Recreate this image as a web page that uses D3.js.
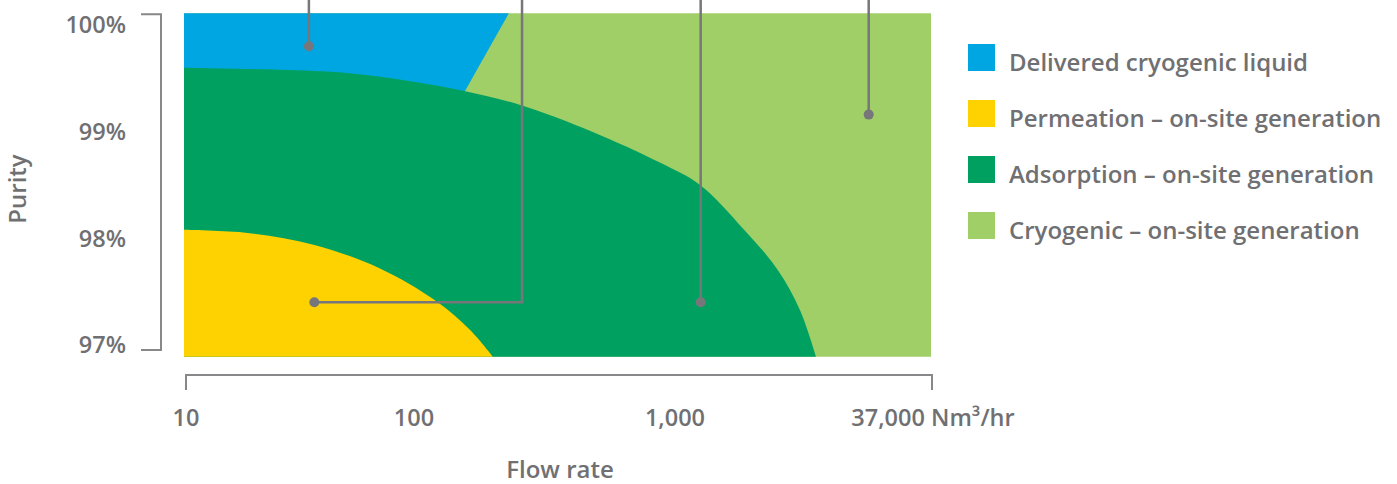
<!DOCTYPE html>
<html>
<head>
<meta charset="utf-8">
<script src="https://cdn.jsdelivr.net/npm/d3@7"></script>
<style>
  body { margin: 0; background: #fff; }
  text { font-family: "Open Sans", sans-serif; font-weight: 600; fill: #707073; }
</style>
</head>
<body>
<div id="chart"></div>
<script>
// tick values and labels
const flowTicks = [10, 100, 1000, 37000];
const flowTickLabels = ['10', '100', '1,000', '37,000 Nm³/hr'];
const purityTicks = [97, 98, 99, 100];
const purityTickLabels = ['97%', '98%', '99%', '100%'];

// legend
const categories = ['Delivered cryogenic liquid', 'Permeation – on-site generation', 'Adsorption – on-site generation', 'Cryogenic – on-site generation'];
const colors = ['#00a6e1', '#fed100', '#00a160', '#a0ce67'];

// region boundaries: [flow Nm3/hr, purity %]
const plotExtent = [[10, 96.89], [37000, 100.11]];
const deliveredRegion = [[10, 100.11], [235, 100.11], [145, 99.20], [10, 99.20]];
const adsorptionEdge = [[10, 99.60], [26, 99.58], [52, 99.55], [100, 99.47], [160, 99.38], [260, 99.25],
  [490, 99.0], [891, 98.71], [1460, 98.50], [2670, 98.09], [4300, 97.71], [5900, 97.33], [7400, 96.89]];
const permeationEdge = [[10, 98.08], [19, 98.05], [37, 97.94], [72, 97.72], [124, 97.41], [167, 97.14], [204, 96.89]];

// callout points (legend order), elbow flow for the permeation one
const calloutPoints = [[35.3, 99.80], [37.3, 97.40], [1473, 97.40], [15470, 99.16]];
const calloutElbow = [null, 264, null, null];

const width = 1397;
const height = 484;

const x = d3.scaleLog()
  .domain(flowTicks)
  .range([184, 412, 673, 931]);

const y = d3.scaleLinear()
  .domain([97, 100])
  .range([345, 25]);

const svg = d3.select('#chart')
  .append('svg')
  .attr('width', width)
  .attr('height', height);

const plot = svg.append('g');

// cryogenic on-site fills the whole field
plot.append('rect')
  .attr('x', x(plotExtent[0][0]))
  .attr('y', y(plotExtent[1][1]))
  .attr('width', x(plotExtent[1][0]) - x(plotExtent[0][0]))
  .attr('height', y(plotExtent[0][1]) - y(plotExtent[1][1]))
  .attr('fill', colors[3]);

plot.append('path')
  .attr('d', d3.line().x(d => x(d[0])).y(d => y(d[1]))(deliveredRegion) + 'Z')
  .attr('fill', colors[0]);

const area = d3.area()
  .x(d => x(d[0]))
  .y0(y(plotExtent[0][1]))
  .y1(d => y(d[1]))
  .curve(d3.curveCatmullRom.alpha(0.5));

plot.append('path')
  .attr('d', area(adsorptionEdge))
  .attr('fill', colors[2]);

plot.append('path')
  .attr('d', area(permeationEdge))
  .attr('fill', colors[1]);

// callout lines coming from above
const lineColor = '#77767b';
calloutPoints.forEach((p, i) => {
  const px = x(p[0]);
  const py = y(p[1]);
  let pts = [[px, 0], [px, py]];
  if (calloutElbow[i] != null) {
    const ex = x(calloutElbow[i]);
    pts = [[ex, 0], [ex, py], [px, py]];
  }
  svg.append('path')
    .attr('d', d3.line()(pts))
    .attr('fill', 'none')
    .attr('stroke', lineColor)
    .attr('stroke-width', 2.5);
  svg.append('circle')
    .attr('cx', px)
    .attr('cy', py)
    .attr('r', 5)
    .attr('fill', lineColor);
});

// y axis bracket
const axisColor = '#88888b';
const yTop = y(plotExtent[1][1]) + 1;
const yBot = y(97) + 5;
svg.append('path')
  .attr('d', `M141,${yTop}H161V${yBot}H141`)
  .attr('fill', 'none')
  .attr('stroke', axisColor)
  .attr('stroke-width', 2);

svg.selectAll('.ytick')
  .data(purityTicks)
  .enter()
  .append('text')
  .attr('class', 'ytick')
  .attr('x', 126)
  .attr('y', d => y(d))
  .attr('dy', '0.35em')
  .attr('text-anchor', 'end')
  .style('font-size', '23.5px')
  .text((d, i) => purityTickLabels[i]);

// x axis bracket
const xl = x(flowTicks[0]) + 2;
const xr = x(flowTicks[flowTicks.length - 1]) + 1;
svg.append('path')
  .attr('d', `M${xl},390V375H${xr}V390`)
  .attr('fill', 'none')
  .attr('stroke', axisColor)
  .attr('stroke-width', 2);

svg.selectAll('.xtick')
  .data(flowTicks)
  .enter()
  .append('text')
  .attr('class', 'xtick')
  .attr('x', d => x(d) + 2)
  .attr('y', 418)
  .attr('dy', '0.35em')
  .attr('text-anchor', 'middle')
  .style('font-size', '23.5px')
  .text((d, i) => flowTickLabels[i]);

// axis titles
svg.append('text')
  .attr('transform', 'translate(18,189) rotate(-90)')
  .attr('dy', '0.35em')
  .attr('text-anchor', 'middle')
  .style('font-size', '24px')
  .text('Purity');

svg.append('text')
  .attr('x', 560)
  .attr('y', 470)
  .attr('dy', '0.35em')
  .attr('text-anchor', 'middle')
  .style('font-size', '24px')
  .text('Flow rate');

// legend
const legend = svg.selectAll('.legend')
  .data(categories)
  .enter()
  .append('g')
  .attr('class', 'legend')
  .attr('transform', (d, i) => `translate(968, ${44 + i * 56})`);

legend.append('rect')
  .attr('width', 27)
  .attr('height', 27)
  .attr('fill', (d, i) => colors[i]);

legend.append('text')
  .attr('x', 41)
  .attr('y', 27)
  .style('font-size', '24px')
  .text(d => d);
</script>
</body>
</html>
